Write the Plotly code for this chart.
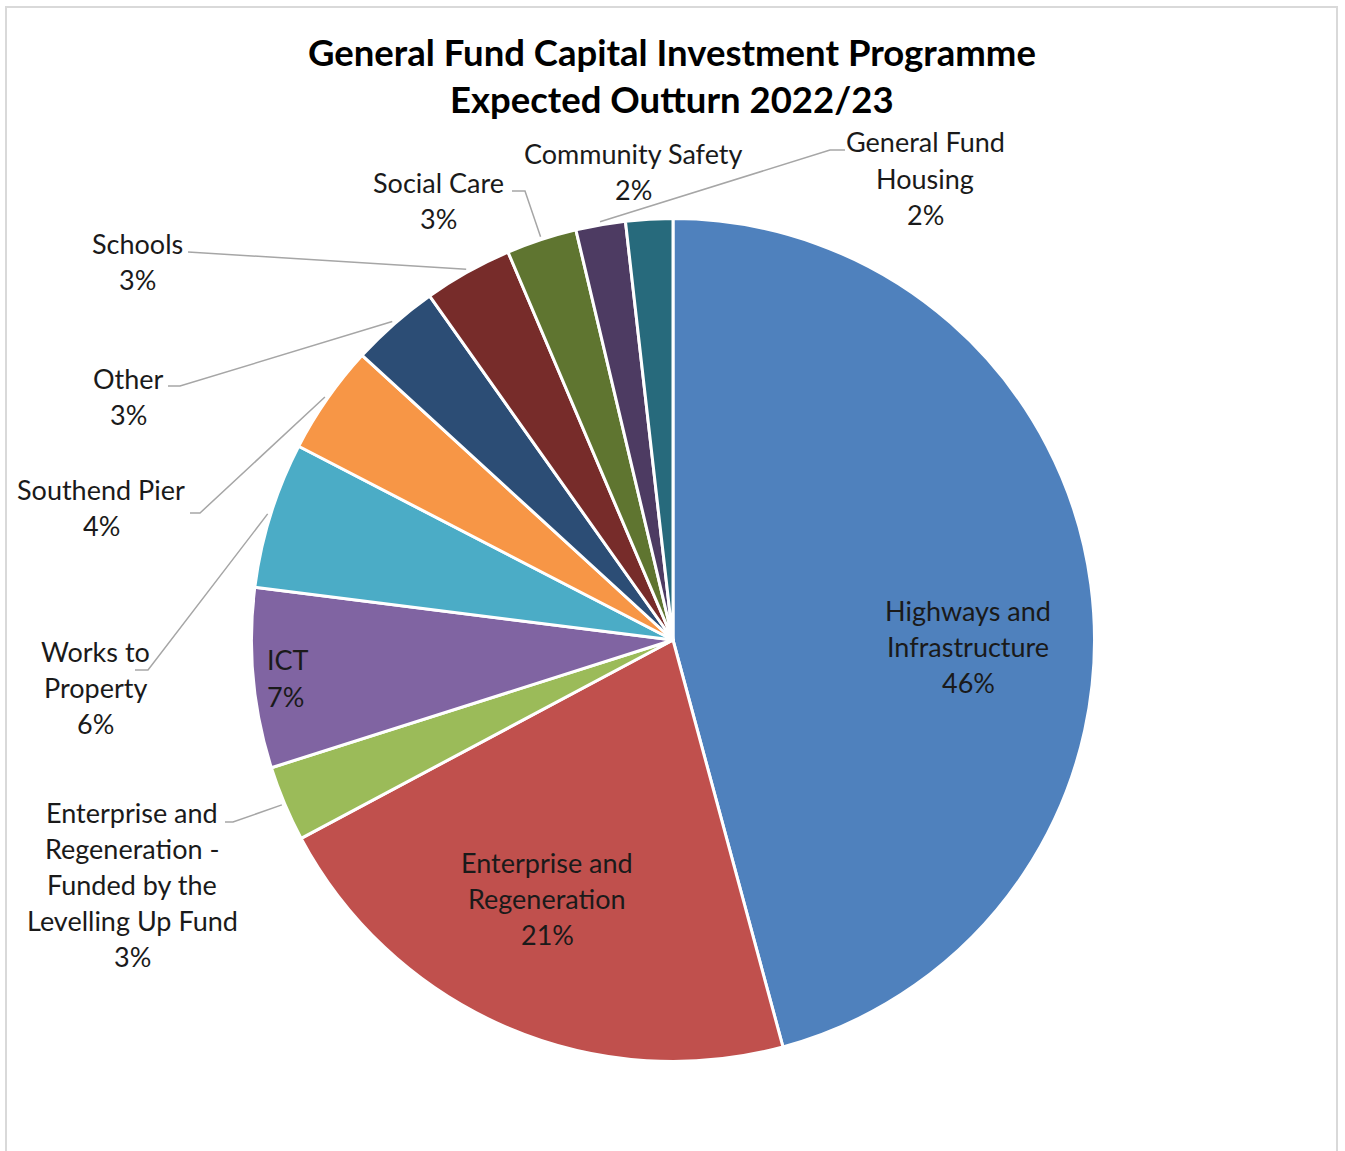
import math
import plotly.graph_objects as go

# ---- data -------------------------------------------------------------
categories = [
    "Highways and Infrastructure",
    "Enterprise and Regeneration",
    "Enterprise and Regeneration - Funded by the Levelling Up Fund",
    "ICT",
    "Works to Property",
    "Southend Pier",
    "Other",
    "Schools",
    "Social Care",
    "Community Safety",
    "General Fund Housing",
]
shares = [45.8, 21.4, 2.9, 6.9, 5.6, 4.2, 3.4, 3.4, 2.7, 1.9, 1.8]

label_lines = {
    "Highways and Infrastructure": ["Highways and", "Infrastructure"],
    "Enterprise and Regeneration": ["Enterprise and", "Regeneration"],
    "Enterprise and Regeneration - Funded by the Levelling Up Fund":
        ["Enterprise and", "Regeneration -", "Funded by the", "Levelling Up Fund"],
    "ICT": ["ICT"],
    "Works to Property": ["Works to", "Property"],
    "Southend Pier": ["Southend Pier"],
    "Other": ["Other"],
    "Schools": ["Schools"],
    "Social Care": ["Social Care"],
    "Community Safety": ["Community Safety"],
    "General Fund Housing": ["General Fund", "Housing"],
}

title_lines = ["General Fund Capital Investment Programme", "Expected Outturn 2022/23"]

# ---- styling / layout -------------------------------------------------
colors = ["#4F81BD", "#C0504D", "#9BBB59", "#8064A2", "#4BACC6", "#F79646",
          "#2C4D75", "#772C2A", "#5F7530", "#4D3B62", "#276A7C"]

W, H = 1345, 1151
CX, CY, R = 673, 640, 421.5          # pie centre and radius in pixels
FONT = "Lato"
TEXT_COLOR = "#1a1a1a"
LABEL_SIZE = 27
TITLE_SIZE = 36.5
LINE_GAP = 36

# centre of first text line (pixels from top-left) and alignment
label_pos = {
    "Highways and Infrastructure": (968, 610, "center"),
    "Enterprise and Regeneration": (547, 862, "center"),
    "Enterprise and Regeneration - Funded by the Levelling Up Fund": (132, 812, "center"),
    "ICT": (265, 660, "left"),
    "Works to Property": (95, 651, "center"),
    "Southend Pier": (101, 489, "center"),
    "Other": (128, 378, "center"),
    "Schools": (137, 244, "center"),
    "Social Care": (439, 182, "center"),
    "Community Safety": (633, 153, "center"),
    "General Fund Housing": (925, 142, "center"),
}

# leader lines: label-side waypoints (pixels) and the slice they point at
leaders = [
    ("Enterprise and Regeneration - Funded by the Levelling Up Fund",
     "Enterprise and Regeneration - Funded by the Levelling Up Fund", [(225, 822), (233, 822)]),
    ("Works to Property", "Works to Property", [(135, 670), (148, 670)]),
    ("Southend Pier", "Southend Pier", [(190, 513), (200, 513)]),
    ("Other", "Other", [(168, 386), (180, 386)]),
    ("Schools", "Schools", [(188, 252)]),
    ("Social Care", "Social Care", [(512, 191), (525, 191)]),
    ("General Fund Housing", "Community Safety", [(845, 150), (830, 150)]),
]


def px(x):
    return x / W


def py(y):
    return 1 - y / H


total = sum(shares)
pct = {c: f"{round(v / total * 100)}%" for c, v in zip(categories, shares)}

# mid-angle of every slice, measured clockwise from 12 o'clock
mid_angle = {}
acc = 0.0
for c, v in zip(categories, shares):
    a0 = acc / total * 360
    acc += v
    a1 = acc / total * 360
    mid_angle[c] = (a0 + a1) / 2


def edge_point(cat, extra=3):
    a = math.radians(mid_angle[cat])
    r = R + extra
    return CX + r * math.sin(a), CY - r * math.cos(a)


fig = go.Figure(
    go.Pie(
        labels=categories,
        values=shares,
        sort=False,
        direction="clockwise",
        rotation=0,
        marker=dict(colors=colors, line=dict(color="white", width=3)),
        textinfo="none",
        hoverinfo="label+percent",
        showlegend=False,
        domain=dict(x=[px(CX - R), px(CX + R)], y=[py(CY + R), py(CY - R)]),
    )
)

annotations = []

# title
for i, line in enumerate(title_lines):
    annotations.append(dict(
        text=f"<b>{line}</b>", x=px(672), y=py(52 + i * 47), xref="paper", yref="paper",
        xanchor="center", yanchor="middle", showarrow=False,
        font=dict(family=FONT, size=TITLE_SIZE, color="#000000"),
    ))

# data labels
for c in categories:
    x0, y0, align = label_pos[c]
    lines = label_lines[c] + [pct[c]]
    for i, line in enumerate(lines):
        annotations.append(dict(
            text=line, x=px(x0), y=py(y0 + i * LINE_GAP), xref="paper", yref="paper",
            xanchor=align, yanchor="middle", showarrow=False,
            font=dict(family=FONT, size=LABEL_SIZE, color=TEXT_COLOR),
        ))

shapes = []
# leader lines
for _, target, pts in leaders:
    ex, ey = edge_point(target)
    path_pts = pts + [(ex, ey)]
    d = "M " + " L ".join(f"{px(x):.5f},{py(y):.5f}" for x, y in path_pts)
    shapes.append(dict(type="path", path=d, xref="paper", yref="paper",
                       line=dict(color="#A6A6A6", width=1.5)))

# chart-area frame
shapes.append(dict(type="rect", xref="paper", yref="paper",
                   x0=px(6), x1=px(1337), y0=py(1170), y1=py(7),
                   line=dict(color="#D9D9D9", width=2)))

fig.update_layout(
    width=W, height=H,
    margin=dict(l=0, r=0, t=0, b=0),
    paper_bgcolor="white",
    plot_bgcolor="white",
    annotations=annotations,
    shapes=shapes,
)

fig.write_html("out.html")
